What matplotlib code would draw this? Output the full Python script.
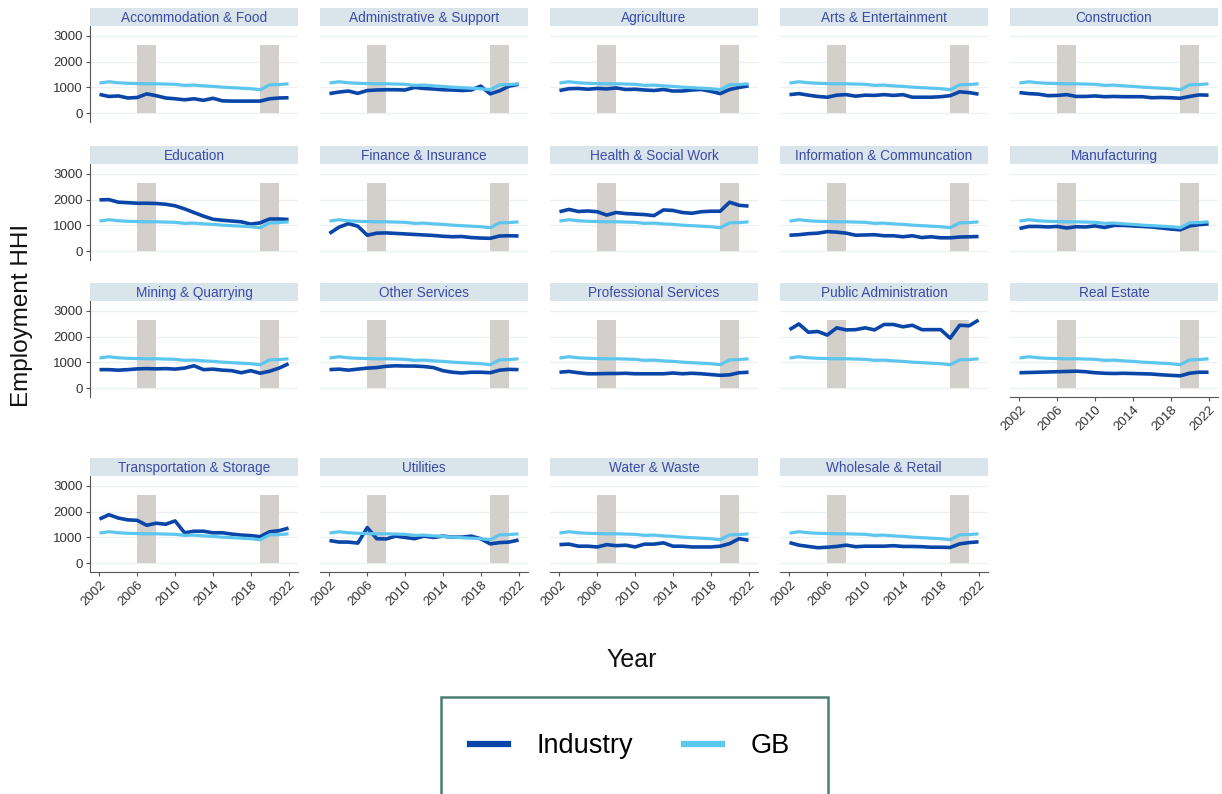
import matplotlib
matplotlib.use("Agg")
import matplotlib.pyplot as plt
from matplotlib.lines import Line2D
from matplotlib.patches import Rectangle

plt.rcParams['font.family'] = ['Liberation Sans', 'DejaVu Sans']

years = list(range(2002, 2023))
xticks = [2002, 2006, 2010, 2014, 2018, 2022]
yticks = [0, 1000, 2000, 3000]
recessions = [(2006, 2008), (2019, 2021)]
shade_top = 2650

gb = [1170, 1220, 1180, 1160, 1150, 1140, 1140, 1130, 1120, 1080, 1090,
      1060, 1040, 1010, 990, 970, 950, 910, 1100, 1110, 1140]

accommodation = [730, 650, 670, 590, 610, 750, 680, 590, 560, 520, 560,
                 500, 580, 480, 470, 470, 470, 470, 560, 590, 600]
administrative = [760, 820, 860, 770, 880, 900, 910, 910, 900, 1000, 960,
                  940, 910, 900, 880, 900, 1050, 750, 870, 1050, 1120]
agriculture = [880, 950, 960, 930, 960, 940, 980, 920, 930, 900, 880,
               920, 860, 860, 900, 920, 850, 760, 920, 1000, 1060]
arts = [720, 760, 700, 650, 620, 700, 720, 660, 700, 690, 720,
        690, 720, 620, 620, 620, 640, 680, 830, 800, 740]
construction = [800, 760, 740, 680, 690, 720, 650, 650, 670, 640, 650,
                640, 640, 640, 600, 610, 600, 580, 650, 710, 700]
education = [1990, 2000, 1900, 1880, 1860, 1860, 1850, 1820, 1760, 1640, 1500,
             1360, 1240, 1200, 1170, 1140, 1050, 1100, 1250, 1250, 1230]
finance = [690, 930, 1070, 970, 620, 700, 710, 690, 670, 650, 630,
           610, 580, 560, 570, 530, 510, 500, 590, 600, 590]
health = [1530, 1620, 1540, 1560, 1530, 1400, 1500, 1460, 1440, 1420, 1380,
          1600, 1580, 1500, 1470, 1530, 1550, 1550, 1900, 1780, 1750]
information = [620, 640, 680, 700, 760, 740, 700, 620, 630, 640, 600,
               600, 560, 600, 530, 560, 520, 520, 550, 560, 570]
manufacturing = [880, 960, 960, 940, 960, 900, 950, 940, 980, 920, 1000,
                 1000, 980, 960, 940, 900, 860, 830, 980, 1030, 1060]
mining = [720, 720, 700, 720, 750, 760, 750, 760, 740, 780, 870,
          720, 740, 700, 680, 600, 680, 580, 660, 780, 950]
other_services = [720, 740, 700, 740, 780, 800, 850, 870, 860, 860, 840,
                  800, 680, 620, 590, 620, 620, 600, 700, 730, 720]
professional = [620, 650, 600, 560, 560, 570, 570, 580, 560, 560, 560,
                560, 590, 560, 580, 560, 530, 500, 520, 600, 620]
public_admin = [2270, 2490, 2170, 2200, 2060, 2340, 2260, 2270, 2340, 2260, 2470,
                2470, 2380, 2440, 2270, 2270, 2270, 1940, 2440, 2420, 2640]
real_estate = [600, 610, 620, 630, 640, 650, 660, 640, 600, 580, 570,
               580, 570, 560, 550, 520, 500, 480, 580, 620, 620]
transport = [1710, 1880, 1750, 1680, 1660, 1470, 1550, 1510, 1640, 1180, 1240,
             1240, 1180, 1180, 1130, 1090, 1070, 1030, 1220, 1260, 1360]
utilities = [880, 820, 820, 780, 1380, 950, 940, 1050, 1000, 950, 1050,
             1000, 1050, 1010, 1010, 1050, 950, 750, 800, 820, 900]
water = [720, 740, 660, 660, 630, 720, 680, 700, 630, 740, 740,
         790, 660, 660, 630, 630, 630, 660, 760, 950, 890]
wholesale = [800, 700, 650, 600, 620, 650, 700, 640, 660, 660, 660,
             680, 650, 650, 640, 620, 620, 610, 750, 800, 830]

titles = ["Accommodation & Food", "Administrative & Support", "Agriculture",
          "Arts & Entertainment", "Construction", "Education",
          "Finance & Insurance", "Health & Social Work",
          "Information & Communcation", "Manufacturing",
          "Mining & Quarrying", "Other Services", "Professional Services",
          "Public Administration", "Real Estate",
          "Transportation & Storage", "Utilities", "Water & Waste",
          "Wholesale & Retail"]
series = [accommodation, administrative, agriculture, arts, construction,
          education, finance, health, information, manufacturing,
          mining, other_services, professional, public_admin, real_estate,
          transport, utilities, water, wholesale]

IND_COL = '#0a45a8'
GB_COL = '#5cc6ee'
SHADE = '#d3cfcb'
STRIP_BG = '#dae5eb'
STRIP_TXT = '#3a4ba6'
GRID = '#ebf1f1'

W, H = 1222, 794
fig = plt.figure(figsize=(W / 100, H / 100), dpi=100)

col_left = [90 + 230 * c for c in range(5)]
panel_w = 208
row_top = [26, 164, 301, 476]
panel_h = 96
strip_h = 18

n = len(titles)
for i in range(n):
    r, c = divmod(i, 5)
    left = col_left[c]
    top = row_top[r]
    ax = fig.add_axes([left / W, 1 - (top + panel_h) / H, panel_w / W, panel_h / H])
    sax = fig.add_axes([left / W, 1 - top / H, panel_w / W, strip_h / H])
    sax.set_facecolor(STRIP_BG)
    sax.set_xticks([]); sax.set_yticks([])
    for s in sax.spines.values():
        s.set_visible(False)
    sax.text(0.5, 0.45, titles[i], ha='center', va='center', fontsize=9.8,
             color=STRIP_TXT, transform=sax.transAxes)

    for (a, b) in recessions:
        ax.fill_between([a, b], 0, shade_top, color=SHADE, lw=0, zorder=1)
    for yv in yticks:
        ax.axhline(yv, color=GRID, lw=1, zorder=0)
    ax.plot(years, series[i], color=IND_COL, lw=2.6, zorder=3,
            solid_capstyle='butt')
    ax.plot(years, gb, color=GB_COL, lw=2.3, zorder=4, solid_capstyle='butt')

    ax.set_xlim(2001.0, 2023.0)
    ax.set_ylim(-340, 3380)
    for s in ['top', 'right']:
        ax.spines[s].set_visible(False)
    ax.spines['left'].set_color('#555555')
    ax.spines['bottom'].set_color('#555555')

    ax.set_yticks(yticks)
    ax.set_xticks(xticks)
    if c == 0:
        ax.set_yticklabels([str(v) for v in yticks], fontsize=9.5, color='#333333')
        ax.tick_params(axis='y', length=3, color='#555555', pad=2)
    else:
        ax.spines['left'].set_visible(False)
        ax.tick_params(axis='y', length=0, labelleft=False)

    bottom_panel = (i + 5 >= n)
    if bottom_panel:
        ax.set_xticklabels([str(v) for v in xticks], fontsize=9.5, color='#333333',
                           rotation=45, ha='right', rotation_mode='anchor')
        ax.tick_params(axis='x', length=3, color='#555555', pad=2)
    else:
        ax.spines['bottom'].set_visible(False)
        ax.tick_params(axis='x', length=0, labelbottom=False)
    ax.set_facecolor('none')

fig.text(22 / W, 1 - 315 / H, 'Employment HHI', rotation=90, ha='center',
         va='center', fontsize=17.5, color='#111111')
fig.text(632 / W, 1 - 660 / H, 'Year', ha='center', va='center', fontsize=18,
         color='#111111')

# legend frame
fig.patches.append(Rectangle((441 / W, -0.05), (828 - 441) / W, 0.05 + (794 - 697) / H,
                             transform=fig.transFigure, fill=False,
                             edgecolor='#4b7d72', lw=1.8))
handles = [Line2D([0], [0], color=IND_COL, lw=4.5),
           Line2D([0], [0], color=GB_COL, lw=4.5)]
fig.legend(handles, ['Industry', 'GB'], loc='center',
           bbox_to_anchor=(630 / W, 1 - 746 / H), ncol=2, frameon=False,
           fontsize=19.5, handlelength=1.4, handletextpad=1.05, columnspacing=1.9)

fig.savefig('out.png', dpi=100)
